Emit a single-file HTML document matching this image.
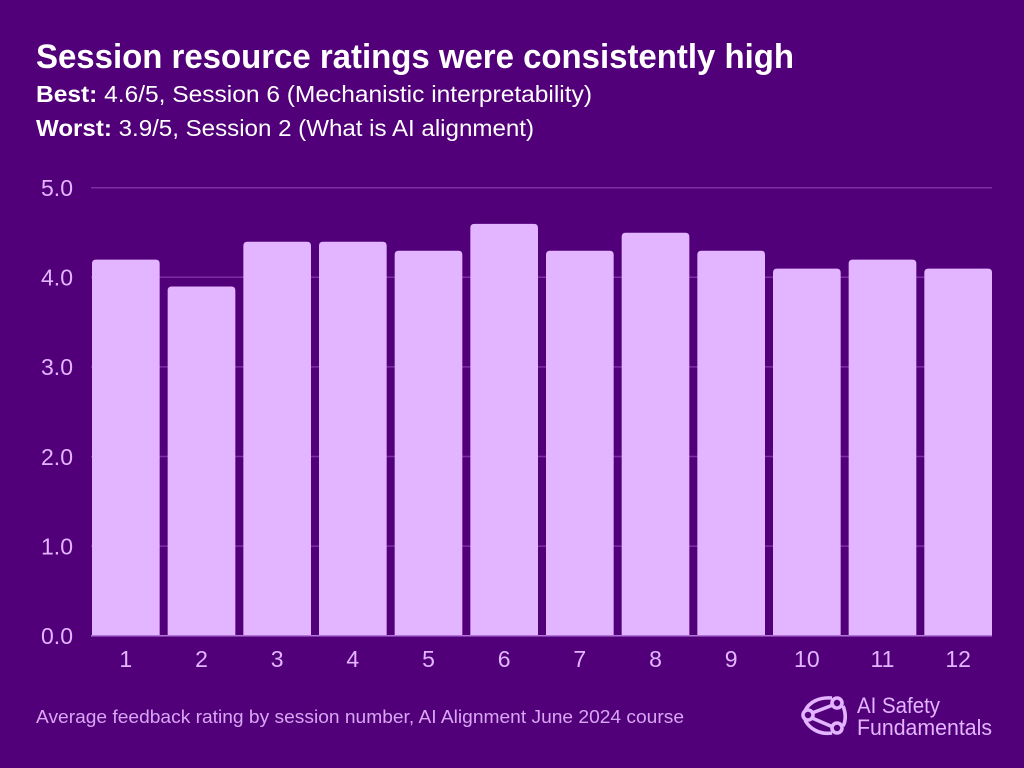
<!DOCTYPE html>
<html lang="en">
<head>
<meta charset="utf-8">
<title>Session resource ratings</title>
<style>
  html, body { margin: 0; padding: 0; background: #520079; }
  svg { display: block; }
  text { font-family: "Liberation Sans", sans-serif; }
</style>
</head>
<body>
<svg id="chart" xmlns="http://www.w3.org/2000/svg" width="1024" height="768" viewBox="0 0 1024 768">
  <rect x="0" y="0" width="1024" height="768" fill="#520079"/>
  <text x="36" y="68" font-size="34" font-weight="700" fill="#ffffff" textLength="758" lengthAdjust="spacingAndGlyphs">Session resource ratings were consistently high</text>
  <text x="36" y="102" font-size="23" fill="#ffffff" textLength="556" lengthAdjust="spacingAndGlyphs"><tspan font-weight="700">Best:</tspan> 4.6/5, Session 6 (Mechanistic interpretability)</text>
  <text x="36" y="136" font-size="23" fill="#ffffff" textLength="498" lengthAdjust="spacingAndGlyphs"><tspan font-weight="700">Worst:</tspan> 3.9/5, Session 2 (What is AI alignment)</text>
  <g id="grid"></g>
  <g id="bars"></g>
  <g id="y-axis"></g>
  <g id="x-axis"></g>
  <text x="36" y="723" font-size="18" fill="#d9a5f5" textLength="648" lengthAdjust="spacingAndGlyphs">Average feedback rating by session number, AI Alignment June 2024 course</text>
  <g fill="none" stroke="#e3b4ff" stroke-width="3.6">
    <path d="M805 711 C809 702 819 697 832 698 M843 706 C846 713 846 721 843 726 M832 733 C819 735 809 728 805 720"/>
    <path d="M812 713 L833 705 M812 718 L833 727"/>
    <circle cx="808" cy="715" r="5"/>
    <circle cx="837" cy="703" r="5"/>
    <circle cx="837" cy="728" r="5"/>
  </g>
  <text x="857" y="713" font-size="22" fill="#e3b4ff" textLength="83" lengthAdjust="spacingAndGlyphs">AI Safety</text>
  <text x="857" y="735" font-size="22" fill="#e3b4ff" textLength="135" lengthAdjust="spacingAndGlyphs">Fundamentals</text>
</svg>
<script>
const sessions = ['1','2','3','4','5','6','7','8','9','10','11','12'];
const ratings = [4.2,3.9,4.4,4.4,4.3,4.6,4.3,4.5,4.3,4.1,4.2,4.1];
const yTicks = [0,1,2,3,4,5];

const NS = 'http://www.w3.org/2000/svg';
const plotLeft = 92, plotRight = 992, plotTop = 188, plotBottom = 636;
const yMax = 5, gap = 8;
const band = (plotRight - plotLeft + gap) / sessions.length;
const barWidth = band - gap;
function yScale(v) { return plotBottom - (v / yMax) * (plotBottom - plotTop); }
function xScale(i) { return plotLeft + i * band; }
function make(tag, attrs, parent) {
  const el = document.createElementNS(NS, tag);
  for (const k in attrs) el.setAttribute(k, attrs[k]);
  parent.appendChild(el);
  return el;
}
const gridG = document.getElementById('grid');
const barsG = document.getElementById('bars');
const yG = document.getElementById('y-axis');
const xG = document.getElementById('x-axis');

yTicks.forEach(function (t) {
  const line = make('line', {x1: 91, x2: plotRight, y1: yScale(t) - 0.3, y2: yScale(t) - 0.3, stroke: '#7c2fa5', 'stroke-width': 1.5}, gridG);
  
  
  const label = make('text', {x: 73, y: yScale(t) + 8, 'text-anchor': 'end', 'font-size': 23, fill: '#e3b4ff'}, yG);
  
  
  label.textContent = t.toFixed(1);
});

ratings.forEach(function (v, i) {
  const x = xScale(i), y = yScale(v), r = 4;
  const d = 'M' + x + ' ' + plotBottom + 'V' + (y + r) + 'Q' + x + ' ' + y + ' ' + (x + r) + ' ' + y +
    'H' + (x + barWidth - r) + 'Q' + (x + barWidth) + ' ' + y + ' ' + (x + barWidth) + ' ' + (y + r) +
    'V' + plotBottom + 'Z';
  const bar = make('path', {d: d, fill: '#e3b4ff'}, barsG);
  
  
  const label = make('text', {x: x + barWidth / 2, y: 667, 'text-anchor': 'middle', 'font-size': 23, fill: '#e3b4ff'}, xG);
  
  
  label.textContent = sessions[i];
});
const baseline = make('line', {x1: 91, x2: plotRight, y1: plotBottom - 0.3, y2: plotBottom - 0.3, stroke: '#b173d8', 'stroke-width': 1.5}, barsG);


</script>
</body>
</html>
